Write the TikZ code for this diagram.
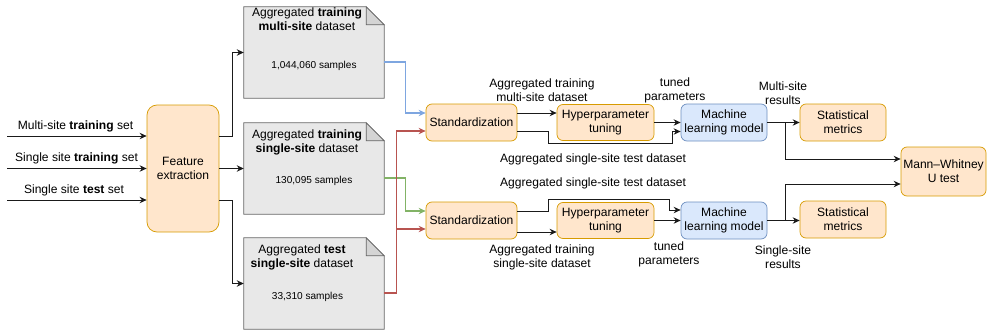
\documentclass[tikz,border=0pt]{standalone}
\usepackage{fontspec}
\setmainfont{Liberation Sans}
\usepackage{tikz}
\usetikzlibrary{arrows.meta, calc}

\definecolor{orfill}{HTML}{FFE6CC}
\definecolor{ordraw}{HTML}{D79B00}
\definecolor{blfill}{HTML}{DAE8FC}
\definecolor{bldraw}{HTML}{6C8EBF}
\definecolor{docfill}{HTML}{E8E8E8}
\definecolor{foldfill}{HTML}{D4D4D4}
\definecolor{docdraw}{HTML}{666666}
\definecolor{lnblue}{HTML}{7EA6E0}
\definecolor{lngreen}{HTML}{82B366}
\definecolor{lnred}{HTML}{B85450}
\definecolor{lndark}{HTML}{1A1A1A}

\begin{document}
\begin{tikzpicture}[
  x=0.03cm, y=-0.03cm,
  font=\fontsize{10.3}{12}\selectfont,
  proc/.style={draw=ordraw, fill=orfill, rounded corners=0.18cm, align=center, inner sep=1pt, line width=0.6pt},
  model/.style={draw=bldraw, fill=blfill, rounded corners=0.18cm, align=center, inner sep=1pt, line width=0.6pt},
  doc/.style={minimum width=4.2cm, minimum height=2.73cm, inner sep=0pt},
  docline/.style={draw=docdraw, line width=0.6pt},
  lab/.style={align=center, inner sep=0pt},
  small/.style={font=\fontsize{8.6}{10}\selectfont, inner sep=0pt},
  wire/.style={->, draw=lndark, line width=0.85pt},
  feed/.style={->, line width=0.9pt},
  >={Stealth[length=6pt, width=5.5pt]}
]
\useasboundingbox (0,0) rectangle (988,332);

% feature extraction
\node[proc, rounded corners=0.3cm, minimum width=2.16cm, minimum height=3.81cm] (feat) at (183,168.5) {Feature\\extraction};

\coordinate (in1) at (7,136);
\coordinate (in2) at (7,168.5);
\coordinate (in3) at (7,200);
\node[lab] (l1) at (75.5,126) {Multi-site \textbf{training} set};
\node[lab] (l2) at (76.5,158) {Single site \textbf{training} set};
\node[lab] (l3) at (74,190) {Single site \textbf{test} set};
\draw[wire] (in1) -- (in1 -| feat.west);
\draw[wire] (in2) -- (in2 -| feat.west);
\draw[wire] (in3) -- (in3 -| feat.west);

% datasets
\node[doc] (d1) at (314,52.5) {};
\node[doc] (d2) at (314,168.5) {};
\node[doc] (d3) at (314,283.5) {};
\foreach \d in {d1,d2,d3}{
  \draw[docline, fill=docfill] (\d.south west) -- (\d.north west) -- ($(\d.north east)+(-18,0)$)
    -- ($(\d.north east)+(0,18)$) -- (\d.south east) -- cycle;
  \draw[docline, fill=foldfill] ($(\d.north east)+(-18,0)$) -- ($(\d.north east)+(-18,18)$)
    -- ($(\d.north east)+(0,18)$) -- cycle;
}
\node[lab] (t1) at (307,19.5) {Aggregated \textbf{training}\\\textbf{multi-site} dataset};
\node[small] (n1) at (314,66) {1,044,060 samples};
\node[lab] (t2) at (307,142) {Aggregated \textbf{training}\\\textbf{single-site} dataset};
\node[small] (n2) at (314,181) {130,095 samples};
\node[lab] (t3) at (302,257) {Aggregated \textbf{test}\\\textbf{single-site} dataset};
\node[small] (n3) at (307.5,297) {33,310 samples};

\draw[wire] (in1 -| feat.east) -- ++(13,0) |- (d1.west);
\draw[wire] (in2 -| feat.east) -- (d2.west);
\draw[wire] (in3 -| feat.east) -- ++(13,0) |- (d3.west);

% pipelines
\node[proc, minimum width=2.73cm, minimum height=1.11cm] (std1) at (471.5,122.5) {Standardization};
\node[proc, minimum width=2.73cm, minimum height=1.11cm] (std2) at (471.5,220.5) {Standardization};
\node[proc, minimum width=2.91cm, minimum height=1.08cm] (hyp1) at (605.5,122.5) {Hyperparameter\\tuning};
\node[proc, minimum width=2.91cm, minimum height=1.08cm] (hyp2) at (605.5,220.5) {Hyperparameter\\tuning};
\node[model, minimum width=2.58cm, minimum height=1.11cm] (ml1) at (724,122.5) {Machine\\learning model};
\node[model, minimum width=2.58cm, minimum height=1.11cm] (ml2) at (724,220.5) {Machine\\learning model};
\node[proc, minimum width=2.58cm, minimum height=1.11cm] (stat1) at (843,122.5) {Statistical\\metrics};
\node[proc, minimum width=2.58cm, minimum height=1.11cm] (stat2) at (843,219.5) {Statistical\\metrics};
\node[proc, minimum width=2.55cm, minimum height=1.47cm] (mw) at (943.5,171.5) {Mann--Whitney\\U test};

% coloured feeds
\draw[feed, draw=lnblue] ($(d1.east)+(0,9.5)$) -- ++(21,0) |- ($(std1.west)+(0,-9.5)$);
\draw[feed, draw=lngreen] ($(d2.east)+(0,9.5)$) -- ++(21,0) |- ($(std2.west)+(0,-9.5)$);
\draw[feed, draw=lnred] ($(d3.east)+(0,9.5)$) -- ++(12,0) |- ($(std1.west)+(0,8.5)$);
\draw[feed, draw=lnred] ($(d3.east)+(12,9.5)$) |- ($(std2.west)+(0,8.5)$);

% first row
\draw[wire] ($(std1.east)+(0,-9.5)$) -- ($(hyp1.west)+(0,-9.5)$);
\draw[wire] ($(std1.east)+(0,9)$) -- ++(31,0) |- ($(ml1.west)+(-8,20.5)$) |- ($(ml1.west)+(0,9)$);
\draw[wire] (hyp1.east) -- (ml1.west);
\draw[wire] (ml1.east) -- (stat1.west);
\coordinate (b1) at ($(ml1.east)!0.55!(stat1.west)$);
\draw[wire] (b1) |- ($(mw.west)+(0,-12.5)$);

% second row
\draw[wire] ($(std2.east)+(0,11.5)$) -- ($(hyp2.west)+(0,11.5)$);
\draw[wire] ($(std2.east)+(0,-9.5)$) -- ++(31,0) |- ($(ml2.west)+(-11,-21.5)$) |- ($(ml2.west)+(0,-10.5)$);
\draw[wire] (hyp2.east) -- (ml2.west);
\draw[wire] (ml2.east) -- (ml2.east -| stat2.west);
\coordinate (b2) at ($(ml2.east)!0.55!(ml2.east -| stat2.west)$);
\draw[wire] (b2) |- ($(mw.west)+(0,12.5)$);

% labels
\node[lab] (a1) at (542,90) {Aggregated training\\multi-site dataset};
\node[lab] (p1) at (675,90) {tuned\\parameters};
\node[lab] (r1) at (783,93) {Multi-site\\results};
\node[lab] (e1) at (593,159) {Aggregated single-site test dataset};
\node[lab] (e2) at (593,183) {Aggregated single-site test dataset};
\node[lab] (a2) at (542,257) {Aggregated training\\single-site dataset};
\node[lab] (p2) at (669,254) {tuned\\parameters};
\node[lab] (r2) at (783,257) {Single-site\\results};
\end{tikzpicture}
\end{document}
